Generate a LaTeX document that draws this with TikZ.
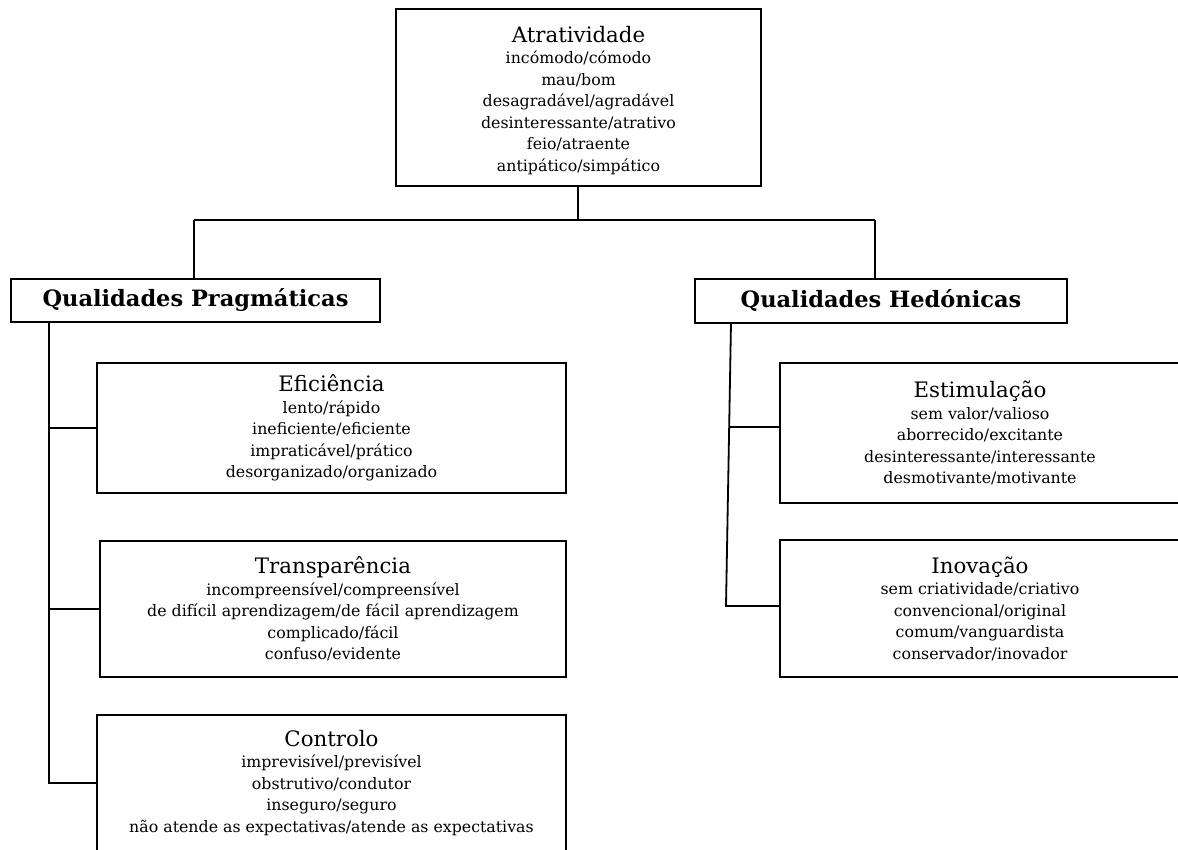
\documentclass[tikz,border=0pt]{standalone}
\usepackage{fontspec}
\setmainfont{DejaVu Serif}
\newcommand\ttlsize{\fontsize{21.3}{21.5}\selectfont}
\begin{document}
\begin{tikzpicture}[x=1pt,y=-1pt,
  box/.style={draw=black, line width=1.8pt, rectangle, inner sep=0pt, align=center, font=\fontsize{15.8}{21.5}\selectfont},
  head/.style={draw=black, line width=1.8pt, rectangle, inner sep=0pt, font=\fontsize{22.5}{22}\selectfont\bfseries},
  conn/.style={draw=black, line width=1.8pt}]
\fill[white] (0,0) rectangle (1178,850);
\useasboundingbox (0,0) rectangle (1178,850);
\clip (0,0) rectangle (1178,850);

\node[box, minimum width=365pt, minimum height=177pt] (atr) at (578.5,97.5)
  {\rule{0pt}{22pt}{\ttlsize Atratividade}\\incómodo/cómodo\\mau/bom\\desagradável/agradável\\desinteressante/atrativo\\feio/atraente\\antipático/simpático};

\node[head, minimum width=369pt, minimum height=43pt] (prag) at (195.5,300.5) {Qualidades Pragmáticas};
\node[head, minimum width=372pt, minimum height=44pt] (hed) at (881,301) {Qualidades Hedónicas};

\node[box, minimum width=469pt, minimum height=130pt] (eff) at (331.5,428)
  {{\ttlsize Eficiência}\\lento/rápido\\ineficiente/eficiente\\impraticável/prático\\desorganizado/organizado};
\node[box, minimum width=466pt, minimum height=136pt] (trans) at (333,609)
  {{\ttlsize Transparência}\\incompreensível/compreensível\\de difícil aprendizagem/de fácil aprendizagem\\complicado/fácil\\confuso/evidente};
\node[box, minimum width=469pt, minimum height=136pt] (ctrl) at (331.5,783)
  {{\ttlsize Controlo}\\imprevisível/previsível\\obstrutivo/condutor\\inseguro/seguro\\não atende as expectativas/atende as expectativas};

\node[box, minimum width=400pt, minimum height=140pt] (est) at (980,433)
  {{\ttlsize Estimulação}\\sem valor/valioso\\aborrecido/excitante\\desinteressante/interessante\\desmotivante/motivante};
\node[box, minimum width=400pt, minimum height=137pt] (inov) at (980,608.5)
  {{\ttlsize Inovação}\\sem criatividade/criativo\\convencional/original\\comum/vanguardista\\conservador/inovador};

% top connectors
\coordinate (j) at (578,220);
\coordinate (pj) at (194,220);
\coordinate (hj) at (875,220);
\draw[conn] (atr.south -| j) -- (j);
\draw[conn] (pj) -- (hj);
\draw[conn] (pj) -- (prag.north -| pj);
\draw[conn] (hj) -- (hed.north -| hj);

% left trunk
\coordinate (lx) at (49,0);
\draw[conn] (prag.south -| lx) -- (ctrl.west -| lx) -- (ctrl.west);
\draw[conn] (eff.west -| lx) -- (eff.west);
\draw[conn] (trans.west -| lx) -- (trans.west);

% right trunk
\coordinate (rt1) at (731,323);
\coordinate (rt2) at (726,606);
\coordinate (rb) at (729.2,427);
\draw[conn] (rt1) -- (rt2) -- (rt2 -| inov.west);
\draw[conn] (rb) -- (rb -| est.west);
\end{tikzpicture}
\end{document}
